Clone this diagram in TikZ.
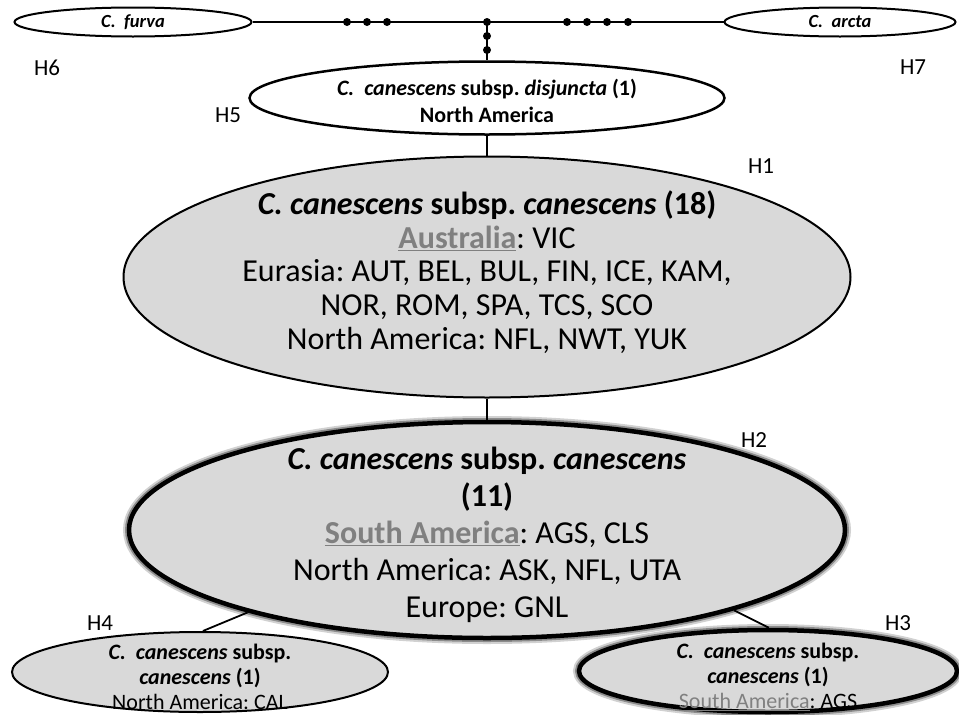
\documentclass[tikz,border=0pt]{standalone}
\usepackage{fontspec}
\setmainfont{Carlito}
\usepackage{xcolor}
\usepackage{tikz}
\usetikzlibrary{shapes.geometric, positioning}
\definecolor{hapfill}{RGB}{217,217,217}
\definecolor{locgray}{RGB}{128,128,128}
\newcommand{\locul}[1]{\textcolor{locgray}{\underline{#1}}}
\frenchspacing
\tikzset{
    hap/.style={ellipse, draw=black, line width=2pt, inner sep=0pt, fill=white},
    hapgray/.style={hap, fill=hapfill},
    hapthick/.style={hapgray, line width=4.5pt,
                     preaction={draw=black!18, line width=12pt},
                     preaction={draw=black!45, line width=8pt}},
    link/.style={line width=1.8pt, draw=black},
    haptxt/.style={align=center, inner sep=0pt, font=\fontsize{22}{25}\selectfont},
    bigtxt/.style={align=center, inner sep=0pt, font=\fontsize{32}{33.75}\selectfont},
    hlbl/.style={inner sep=0pt, font=\fontsize{23}{26}\selectfont},
    mutdot/.style={fill=black},
}

\begin{document}
\begin{tikzpicture}[x=1pt, y=-1pt]
    \useasboundingbox (0,0) rectangle (959,715);
    % outgroups
    \node[hap, minimum width=237pt, minimum height=29pt] (furva) at (133,22) {};
    \node[haptxt, font=\fontsize{18.5}{22}\selectfont] at (furva) {\textbf{\textit{C.~~furva}}};
    \node[hap, minimum width=231pt, minimum height=29pt] (arcta) at (840,22) {};
    \node[haptxt, font=\fontsize{18.5}{22}\selectfont] at (arcta) {\textbf{\textit{C.~~arcta}}};
    \coordinate (jn) at (487,22);
    % haplotypes
    \node[hap, line width=2.5pt, minimum width=475pt, minimum height=73pt] (h5) at (487,98) {};
    \node[haptxt, font=\fontsize{22}{27}\selectfont] (h5txt) at (487,101) {\textbf{\textit{C.~~canescens} subsp. \textit{disjuncta} (1)}\\ \textbf{North America}};
    \node[hapgray, minimum width=727pt, minimum height=241pt] (h1) at (487,277) {};
    \node[bigtxt] (h1txt) at (487,272) {\textbf{\textit{C. canescens} subsp. \textit{canescens} (18)}\\
        \locul{\textbf{Australia}}: VIC\\
        Eurasia: AUT, BEL, BUL, FIN, ICE, KAM,\\
        NOR, ROM, SPA, TCS, SCO\\
        North America: NFL, NWT, YUK};
    \node[hapthick, minimum width=716pt, minimum height=216pt] (h2) at (487,530) {};
    \node[bigtxt, font=\fontsize{32}{37}\selectfont] (h2txt) at (487,535) {\textbf{\textit{C. canescens} subsp. \textit{canescens}}\\
        \textbf{(11)}\\
        \locul{\textbf{South America}}: AGS, CLS\\
        North America: ASK, NFL, UTA\\
        Europe: GNL};
    \node[hapgray, minimum width=376pt, minimum height=80pt] (h4) at (200,672) {};
    \node[haptxt] (h4txt) at (200,677) {\textbf{\textit{C.~~canescens} subsp.}\\ \textbf{\textit{canescens} (1)}\\ North America: CAL};
    \node[hapthick, minimum width=378pt, minimum height=82pt] (h3) at (768,671) {};
    \node[haptxt] (h3txt) at (768,677) {\textbf{\textit{C.~~canescens} subsp.}\\ \textbf{\textit{canescens} (1)}\\ \locul{South America}: AGS};
    % labels
    \node[hlbl] at (47,68) {H6};
    \node[hlbl] at (913,67) {H7};
    \node[hlbl] at (228,115) {H5};
    \node[hlbl] at (761,166) {H1};
    \node[hlbl] at (754,440) {H2};
    \node[hlbl] at (100,623) {H4};
    \node[hlbl] at (898,623) {H3};
    % links
    \draw[link] (furva.east) -- (arcta.west);
    \draw[link] (jn) -- (h5.north);
    \draw[link] (h5.south) -- (h1.north);
    \draw[link] (h1.south) -- (h2.north);
    \draw[link] (h2.199) -- (h4.86);
    \draw[link] (h2.342) -- (h3.89);
    % mutation steps
    \foreach \x in {347,367,387,567,587,607,628}
        \fill[mutdot] (\x,22) circle (4pt);
    \foreach \y in {22,36,50}
        \fill[mutdot] (487,\y) circle (4pt);
\end{tikzpicture}
\end{document}
